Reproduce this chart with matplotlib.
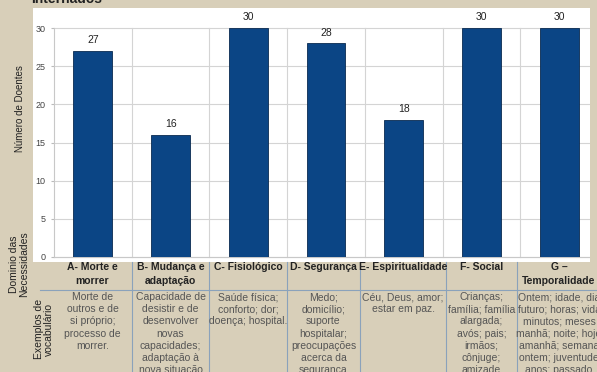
import matplotlib.pyplot as plt
from matplotlib.patches import Rectangle
from matplotlib.lines import Line2D

plt.rcParams['font.family'] = ['Liberation Sans', 'DejaVu Sans']

categories = ['A- Morte e\nmorrer', 'B- Mudança e\nadaptação', 'C- Fisiológico',
              'D- Segurança', 'E- Espiritualidade', 'F- Social', 'G –\nTemporalidade']
doentes = [27, 16, 30, 28, 18, 30, 30]
exemplos = [
    'Morte de\noutros e de\nsi próprio;\nprocesso de\nmorrer.',
    'Capacidade de\ndesistir e de\ndesenvolver\nnovas\ncapacidades;\nadaptação à\nnova situação',
    'Saúde física;\nconforto; dor;\ndoença; hospital.',
    'Medo;\ndomicílio;\nsuporte\nhospitalar;\npreocupações\nacerca da\nsegurança',
    'Céu, Deus, amor;\nestar em paz.',
    'Crianças;\nfamília; família\nalargada;\navós; pais;\nirmãos;\ncônjuge;\namizade',
    'Ontem; idade, dia\nfuturo; horas; vida\nminutos; meses\nmanhã; noite; hoje\namanhã; semana\nontem; juventude\nanos; passado',
]
yticks = [0, 5, 10, 15, 20, 25, 30]

W, H = 597, 372
bg = '#d8cfb9'
fig = plt.figure(figsize=(W / 100, H / 100), dpi=100, facecolor=bg)

def fx(px):
    return px / W

def fy(py):
    return 1 - py / H

# white chart panel behind the axes
panel = Rectangle((fx(33), fy(262)), fx(590) - fx(33), fy(8) - fy(262),
                  transform=fig.transFigure, facecolor='white',
                  edgecolor='none', zorder=-10)
fig.patches.append(panel)

ax = fig.add_axes([fx(54), fy(257), fx(598) - fx(54), fy(28) - fy(257)])
ax.set_facecolor('none')
x = range(len(doentes))
bars = ax.bar(x, doentes, width=0.5, color='#0b4585', edgecolor='#0a2a50', linewidth=0.6, zorder=3)
for b, v in zip(bars, doentes):
    ax.text(b.get_x() + b.get_width() / 2, v + 0.75, str(v), ha='center', va='bottom',
            fontsize=7.5, color='#222222')
ax.set_xlim(-0.5, len(doentes) - 0.5)
ax.set_ylim(0, 30)
ax.set_yticks(yticks)
ax.set_yticklabels([str(t) for t in yticks], fontsize=6.5, color='#444444')
ax.set_xticks([i + 0.5 for i in range(len(doentes) - 1)])
ax.set_xticklabels([])
ax.tick_params(axis='x', length=0)
ax.tick_params(axis='y', length=2, color='#bbbbbb', pad=4)
ax.grid(True, axis='both', color='#d4d4d4', linewidth=0.8, zorder=0)
for gl in ax.get_xgridlines() + ax.get_ygridlines():
    gl.set_clip_path(panel)
for s in ['top', 'right']:
    ax.spines[s].set_visible(False)
ax.spines['left'].set_color('#c8c8c8')
ax.spines['bottom'].set_color('#c8c8c8')
ax.spines['bottom'].set_clip_path(panel)

fig.text(fx(20), fy(109), 'Número de Doentes', rotation=90, ha='center', va='center',
         fontsize=7, color='#222222')

# title, partly above the top edge
fig.text(fx(31), fy(3), 'Internados', ha='left', va='baseline', fontsize=10,
         fontweight='bold', color='#222222')

# table under the chart
bounds = [53, 132, 209, 287, 360, 446, 517, 600]
line_c = '#8aa2bb'
fig.add_artist(Line2D([fx(40), 1], [fy(290), fy(290)], color=line_c, linewidth=0.8))
for b in bounds[1:-1]:
    fig.add_artist(Line2D([fx(b), fx(b)], [fy(262), fy(372)], color=line_c, linewidth=0.8))

for i, (cat, ex) in enumerate(zip(categories, exemplos)):
    cx = (bounds[i] + bounds[i + 1]) / 2
    if i == len(categories) - 1:
        cx = 559
    fig.text(fx(cx), fy(262), cat, ha='center', va='top', fontsize=7.5,
             fontweight='bold', color='#222222', linespacing=1.45)
    fig.text(fx(cx), fy(292), ex, ha='center', va='top', fontsize=7.5,
             color='#555555', linespacing=1.28)

fig.text(fx(19), fy(264), 'Dominio das\nNecessidades', rotation=90, ha='center',
         va='center', fontsize=7.5, color='#222222', linespacing=1.1)
fig.text(fx(44), fy(329), 'Exemplos de\nvocabulário', rotation=90, ha='center',
         va='center', fontsize=7.5, color='#222222', linespacing=1.1)

fig.savefig('out.png', dpi=100, facecolor=bg)
